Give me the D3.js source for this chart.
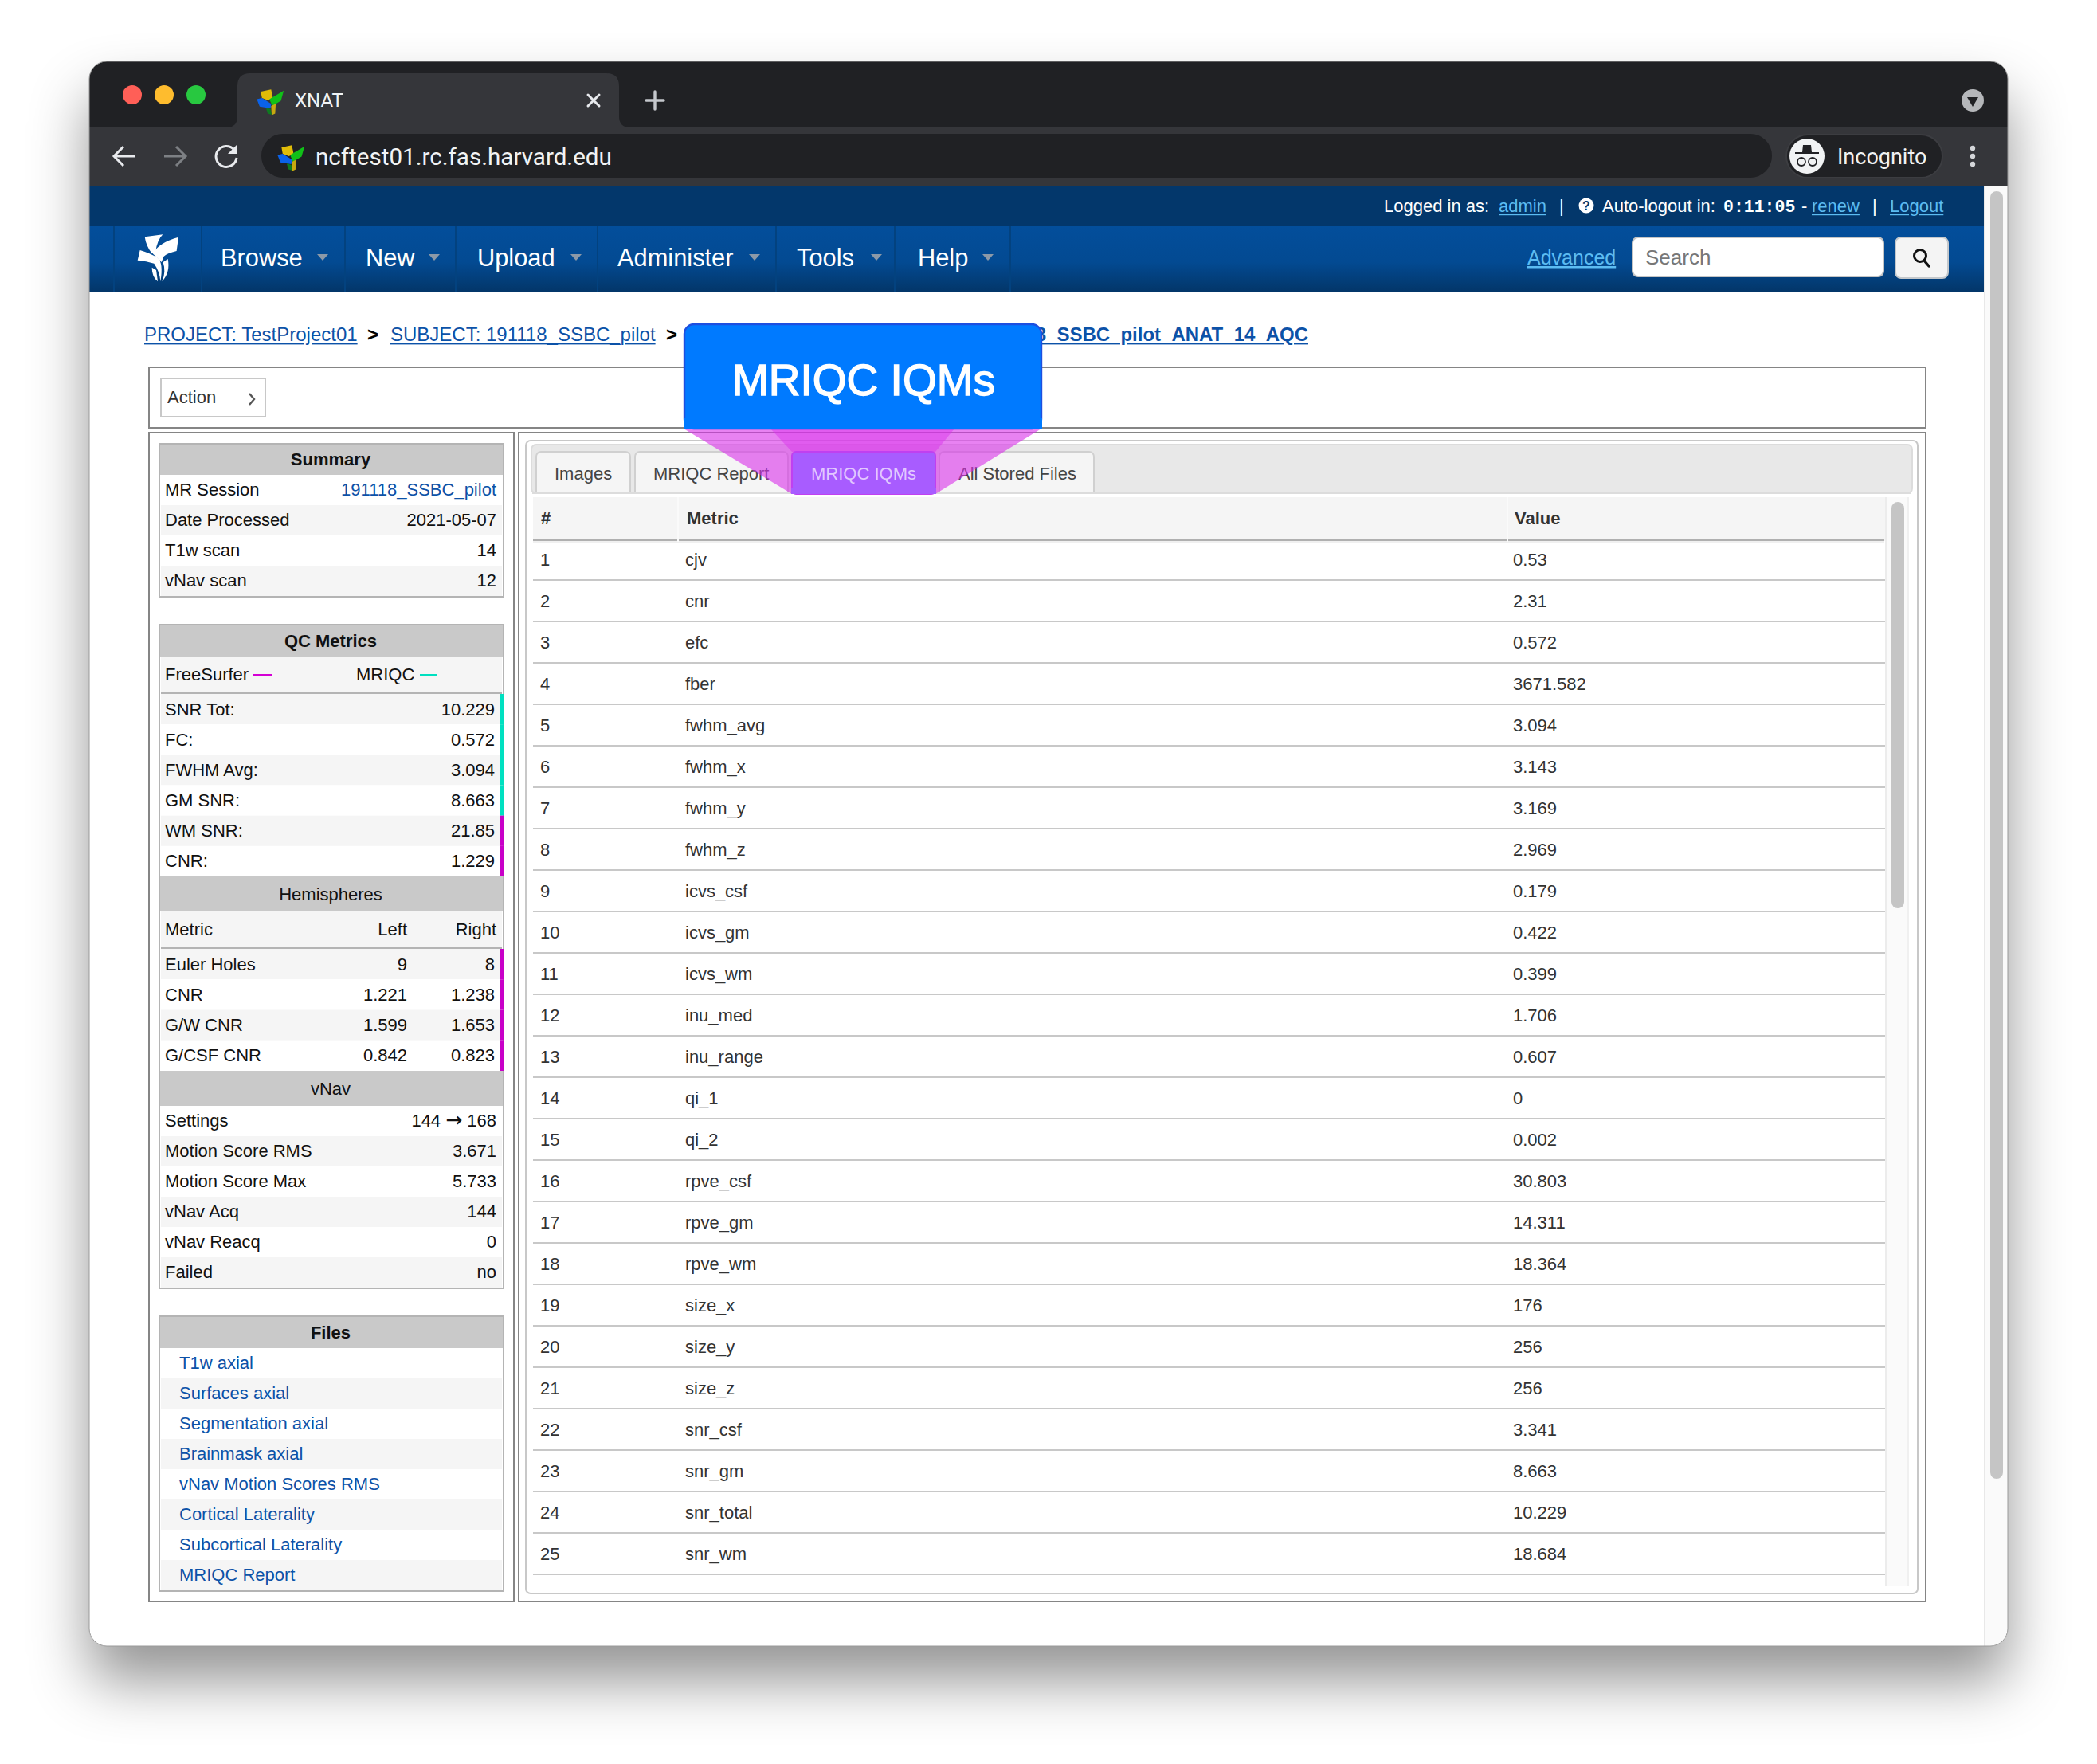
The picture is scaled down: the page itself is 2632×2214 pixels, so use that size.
<!DOCTYPE html>
<html>
<head>
<meta charset="utf-8">
<title>XNAT</title>
<script src="https://cdn.jsdelivr.net/npm/d3@7"></script>
<style>
html, body { margin: 0; padding: 0; background: #fff; }
svg { display: block; }
text { font-family: "Liberation Sans", Arial, sans-serif; }
</style>
</head>
<body>
<script>
// metric table
var iqmNames = ["cjv","cnr","efc","fber","fwhm_avg","fwhm_x","fwhm_y","fwhm_z","icvs_csf","icvs_gm","icvs_wm","inu_med","inu_range","qi_1","qi_2","rpve_csf","rpve_gm","rpve_wm","size_x","size_y","size_z","snr_csf","snr_gm","snr_total","snr_wm"];
var iqmValues = ["0.53","2.31","0.572","3671.582","3.094","3.143","3.169","2.969","0.179","0.422","0.399","1.706","0.607","0","0.002","30.803","14.311","18.364","176","256","256","3.341","8.663","10.229","18.684"];

// left column
var summaryLabels = ["MR Session","Date Processed","T1w scan","vNav scan"];
var summaryValues = ["191118_SSBC_pilot","2021-05-07","14","12"];
var qcLabels = ["SNR Tot:","FC:","FWHM Avg:","GM SNR:","WM SNR:","CNR:"];
var qcValues = ["10.229","0.572","3.094","8.663","21.85","1.229"];
var qcSources = ["mriqc","mriqc","mriqc","mriqc","freesurfer","freesurfer"];
var hemiLabels = ["Euler Holes","CNR","G/W CNR","G/CSF CNR"];
var hemiLeft = ["9","1.221","1.599","0.842"];
var hemiRight = ["8","1.238","1.653","0.823"];
var vnavLabels = ["Settings","Motion Score RMS","Motion Score Max","vNav Acq","vNav Reacq","Failed"];
var vnavValues = ["144 \u2192 168","3.671","5.733","144","0","no"];
var fileLabels = ["T1w axial","Surfaces axial","Segmentation axial","Brainmask axial","vNav Motion Scores RMS","Cortical Laterality","Subcortical Laterality","MRIQC Report"];

// nav bar
var navLabels = ["Browse","New","Upload","Administer","Tools","Help"];
var navTextX = [277,459,599,775,1000,1152];
var navArrowX = [405,545,723,947,1100,1240];
var navSepX = [143,253,433,572,750,974,1123,1268];

var tabLabels = ["Images","MRIQC Report","MRIQC IQMs","All Stored Files"];
var tabLeft = [673,797,994,1179];
var tabRight = [791,989,1174,1373];

var sourceColor = { mriqc: "#00e0c0", freesurfer: "#c800c8" };
var linkBlue = "#0c52a8", skyBlue = "#5cbcf2";

var svg = d3.select("body").append("svg").attr("width", 2632).attr("height", 2214);
var defs = svg.append("defs");

var shadow = defs.append("filter").attr("id", "winShadow")
  .attr("x", "-10%").attr("y", "-10%").attr("width", "120%").attr("height", "125%");
shadow.append("feDropShadow").attr("dx", 0).attr("dy", 44).attr("stdDeviation", 36)
  .attr("flood-color", "#000").attr("flood-opacity", 0.42);

defs.append("clipPath").attr("id", "winClip").append("rect")
  .attr("x", 112).attr("y", 77).attr("width", 2408).attr("height", 1989).attr("rx", 22);

var navGrad = defs.append("linearGradient").attr("id", "navGrad").attr("x1", 0).attr("x2", 0).attr("y1", 0).attr("y2", 1);
navGrad.append("stop").attr("offset", "0").attr("stop-color", "#034e9b");
navGrad.append("stop").attr("offset", "0.55").attr("stop-color", "#034a92");
navGrad.append("stop").attr("offset", "1").attr("stop-color", "#033669");

function box(g, x0, y0, x1, y1, fill, stroke, sw, rx) {
  return g.append("rect").attr("x", x0).attr("y", y0).attr("width", x1 - x0).attr("height", y1 - y0)
    .attr("fill", fill).attr("stroke", stroke || "none").attr("stroke-width", sw || 0).attr("rx", rx || 0);
}
function label(g, x, y, str, size, color, anchor, weight) {
  return g.append("text").attr("x", x).attr("y", y).text(str)
    .attr("font-size", size || 22).attr("fill", color || "#111")
    .attr("text-anchor", anchor || "start").attr("font-weight", weight || "normal");
}
function line(g, x0, y0, x1, y1, color, w) {
  return g.append("line").attr("x1", x0).attr("y1", y0).attr("x2", x1).attr("y2", y1)
    .attr("stroke", color).attr("stroke-width", w).attr("stroke-linecap", "round");
}

// window
box(svg, 112, 77, 2520, 2066, "#fff", "none", 0, 22).attr("filter", "url(#winShadow)");
var win = svg.append("g").attr("clip-path", "url(#winClip)");
box(win, 112, 77, 2520, 2066, "#fff");

// browser chrome
box(win, 112, 77, 2520, 160, "#202124");
box(win, 112, 160, 2520, 233, "#35363a");
win.append("path").attr("fill", "#35363a")
  .attr("d", "M284,160 Q298,160 298,146 L298,108 Q298,92 314,92 L761,92 Q777,92 777,108 L777,146 Q777,160 791,160 Z");
[["#ff5f57",166],["#febc2e",206],["#28c840",246]].forEach(function (d) {
  win.append("circle").attr("cx", d[1]).attr("cy", 119).attr("r", 12).attr("fill", d[0]);
});

var fav = defs.append("g").attr("id", "favicon").attr("transform", "scale(0.36)");
fav.append("path").attr("fill", "#e0bc08").attr("d", "M26,28 L62,20 L68,50 L52,58 L30,50 Z");
fav.append("path").attr("fill", "#10c018").attr("d", "M56,54 L106,24 L96,60 L66,78 Z");
fav.append("path").attr("fill", "#0a62e8").attr("d", "M12,54 L30,50 L62,70 L60,86 L22,80 Z");
fav.append("path").attr("fill", "#0e7a20").attr("d", "M44,84 L60,88 L64,108 L50,104 Z");
fav.append("path").attr("fill", "#c8a810").attr("d", "M62,78 L78,70 L76,104 L64,110 Z");
win.append("use").attr("href", "#favicon").attr("x", 318).attr("y", 105);

label(win, 370, 134, "XNAT", 24, "#f1f3f4").style("font-family", "Roboto");
line(win, 738, 119, 752, 133, "#e8eaed", 3);
line(win, 752, 119, 738, 133, "#e8eaed", 3);
line(win, 822, 115, 822, 137, "#c4c7cc", 3.4);
line(win, 811, 126, 833, 126, "#c4c7cc", 3.4);

// back, forward, reload
win.append("path").attr("d", "M170,196 L144,196 M155,184 L143,196 L155,208").attr("fill", "none").attr("stroke", "#e8eaed").attr("stroke-width", 3);
win.append("path").attr("d", "M206,196 L232,196 M221,184 L233,196 L221,208").attr("fill", "none").attr("stroke", "#7d8084").attr("stroke-width", 3);
win.append("path").attr("d", "M294,188 A13,13 0 1 0 297,198").attr("fill", "none").attr("stroke", "#e8eaed").attr("stroke-width", 3);
win.append("path").attr("d", "M297,182 L297,193 L286,193 Z").attr("fill", "#e8eaed");

box(win, 328, 168, 2224, 223, "#202124", "none", 0, 27);
win.append("use").attr("href", "#favicon").attr("x", 344).attr("y", 175);
label(win, 396, 207, "ncftest01.rc.fas.harvard.edu", 29.6, "#f1f3f4").style("font-family", "Roboto");

box(win, 2242, 169, 2438, 223, "#202124", "#3c3d41", 2, 27);
win.append("circle").attr("cx", 2268).attr("cy", 196).attr("r", 22).attr("fill", "#f1f3f4");
win.append("path").attr("fill", "#202124").attr("d", "M2253,191 L2262,191 L2263,182 L2273,182 L2274,191 L2283,191 L2283,193 L2253,193 Z");
win.append("circle").attr("cx", 2261).attr("cy", 203).attr("r", 5).attr("fill", "none").attr("stroke", "#202124").attr("stroke-width", 1.8);
win.append("circle").attr("cx", 2275).attr("cy", 203).attr("r", 5).attr("fill", "none").attr("stroke", "#202124").attr("stroke-width", 1.8);
label(win, 2306, 206, "Incognito", 27, "#f1f3f4").style("font-family", "Roboto");
[186,196,206].forEach(function (y) { win.append("circle").attr("cx", 2476).attr("cy", y).attr("r", 3.2).attr("fill", "#d4d6d9"); });
win.append("circle").attr("cx", 2476).attr("cy", 126).attr("r", 14).attr("fill", "#b5b7ba");
win.append("path").attr("fill", "#202124").attr("d", "M2469,122 L2483,122 L2476,134 Z");

// site header
box(win, 112, 233, 2490, 284, "#03376b");
box(win, 112, 284, 2490, 366, "url(#navGrad)");

label(win, 1737, 266, "Logged in as:", 22, "#fff");
label(win, 1881, 266, "admin", 22, skyBlue).style("text-decoration", "underline");
label(win, 1957, 266, "|", 22, "#fff");
win.append("circle").attr("cx", 1991).attr("cy", 258).attr("r", 9.5).attr("fill", "#fff");
label(win, 1991, 264, "?", 16, "#03376b", "middle", "bold");
label(win, 2011, 266, "Auto-logout in:", 22, "#fff");
label(win, 2163, 266, "0:11:05", 21.5, "#fff", "start", "bold").style("font-family", "Liberation Mono");
label(win, 2261, 266, "-", 22, "#fff");
label(win, 2274, 266, "renew", 22, skyBlue).style("text-decoration", "underline");
label(win, 2350, 266, "|", 22, "#fff");
label(win, 2372, 266, "Logout", 22, skyBlue).style("text-decoration", "underline");

win.selectAll("line.navsep").data(navSepX).enter().append("line").attr("class", "navsep")
  .attr("x1", function (d) { return d; }).attr("x2", function (d) { return d; })
  .attr("y1", 284).attr("y2", 366).attr("stroke", "#03427f").attr("stroke-width", 2);

// logo
var logo = win.append("g").attr("transform", "translate(160,285) scale(0.3333)").attr("fill", "#fff");
logo.append("path").attr("d", "M65,37 L133,28 Q112,48 105,95 L92,100 Q70,72 65,37 Z");
logo.append("path").attr("d", "M192,38 L185,90 Q150,98 137,110 L128,132 L95,100 Q118,58 192,38 Z");
logo.append("path").attr("d", "M47,87 Q85,98 114,116 Q136,135 124,205 Q122,168 100,137 Q72,128 38,125 Z");
logo.append("path").attr("d", "M134,132 L152,120 Q162,170 130,205 Q146,170 134,132 Z");
logo.append("path").attr("d", "M92,152 L108,162 L114,205 Q92,188 92,152 Z");

win.selectAll("text.nav").data(navLabels).enter().append("text").attr("class", "nav")
  .attr("x", function (d, i) { return navTextX[i]; }).attr("y", 334)
  .attr("font-size", 30.8).attr("fill", "#fff").text(function (d) { return d; });
win.selectAll("path.navarrow").data(navArrowX).enter().append("path").attr("class", "navarrow")
  .attr("fill", "#8c99a8")
  .attr("d", function (d) { return "M" + (d - 7) + ",319 L" + (d + 7) + ",319 L" + d + ",327 Z"; });

label(win, 1917, 332, "Advanced", 25, skyBlue).style("text-decoration", "underline");
box(win, 2049, 298, 2364, 347, "#fff", "#c4c4c4", 2, 7);
label(win, 2065, 332, "Search", 26, "#777");
box(win, 2379, 298, 2445, 349, "#f4f4f4", "#c4c8cc", 2, 7);
win.append("circle").attr("cx", 2410).attr("cy", 321).attr("r", 7.5).attr("fill", "none").attr("stroke", "#111").attr("stroke-width", 3);
line(win, 2415, 327, 2421, 334, "#111", 3.4);

// window scrollbar
box(win, 2490, 233, 2520, 2066, "#fafafa");
box(win, 2490, 233, 2492, 2066, "#e8e8e8");
box(win, 2498, 240, 2514, 1856, "#c5c5c5", "none", 0, 8);

// breadcrumb
label(win, 181, 428, "PROJECT: TestProject01", 24, linkBlue).style("text-decoration", "underline");
label(win, 461, 428, ">", 24, "#000", "start", "bold");
label(win, 490, 428, "SUBJECT: 191118_SSBC_pilot", 24, linkBlue).style("text-decoration", "underline");
label(win, 836, 428, ">", 24, "#000", "start", "bold");
label(win, 1642, 428, "SESSION: 191118_SSBC_pilot_ANAT_14_AQC", 24, linkBlue, "end", "bold").style("text-decoration", "underline");

// panels
box(win, 187, 461, 2417, 537, "#fff", "#858585", 2);
box(win, 202, 475, 333, 523, "#fff", "#c8c8c8", 2);
label(win, 210, 506, "Action", 22, "#333");
win.append("path").attr("d", "M313,494 L319,501 L313,508").attr("fill", "none").attr("stroke", "#555").attr("stroke-width", 2.4);
box(win, 187, 543, 645, 2010, "#fff", "#858585", 2);
box(win, 651, 543, 2417, 2010, "#fff", "#858585", 2);
box(win, 660, 553, 2407, 2000, "#fff", "#c8c8c8", 2, 6);
box(win, 667, 558, 2400, 619, "#e8e8e8", "#dcdcdc", 2, 6);

// left tables
function sideHead(y0, y1, str, weight, dy) {
  box(win, 200, y0, 632, y1, "#c9c9c9");
  label(win, 415, y0 + dy, str, 22, "#111", "middle", weight);
}
function sideRows(names, y0, y1, firstShaded) {
  var y = d3.scaleBand().domain(d3.range(names.length)).range([y0, y1]);
  win.append("g").selectAll("rect").data(names).enter().append("rect")
    .attr("x", 202).attr("width", 428)
    .attr("y", function (d, i) { return y(i); }).attr("height", y.bandwidth())
    .attr("fill", function (d, i) { return (i % 2 === 0) === firstShaded ? "#f5f5f5" : "#fff"; });
  return y;
}
function sideText(y, values, x, anchor, color, dy) {
  return win.append("g").selectAll("text").data(values).enter().append("text")
    .attr("x", x).attr("y", function (d, i) { return y(i) + dy; })
    .attr("font-size", 22).attr("fill", function (d, i) { return typeof color === "function" ? color(i) : color; })
    .attr("text-anchor", anchor).text(function (d) { return d; });
}

// summary
sideHead(557, 596, "Summary", "bold", 27);
var ySummary = sideRows(summaryLabels, 596, 748, false);
sideText(ySummary, summaryLabels, 207, "start", "#111", 26);
sideText(ySummary, summaryValues, 623, "end", function (i) { return i === 0 ? linkBlue : "#111"; }, 26);
box(win, 200, 557, 632, 749, "none", "#b4b4b4", 2);

// qc metrics
sideHead(784, 824, "QC Metrics", "bold", 28);
box(win, 202, 824, 630, 871, "#f5f5f5");
box(win, 202, 869, 630, 871, "#b4b4b4");
label(win, 207, 854, "FreeSurfer");
label(win, 447, 854, "MRIQC");
box(win, 318, 846, 341, 849, "#d400d4");
box(win, 527, 846, 549, 849, "#00e0c0");
var yQc = sideRows(qcLabels, 871, 1100, true);
sideText(yQc, qcLabels, 207, "start", "#111", 26.5);
sideText(yQc, qcValues, 621, "end", "#111", 26.5);

sideHead(1100, 1144, "Hemispheres", "normal", 30);
box(win, 202, 1144, 630, 1191, "#f5f5f5");
box(win, 202, 1189, 630, 1191, "#b4b4b4");
label(win, 207, 1174, "Metric");
label(win, 511, 1174, "Left", 22, "#111", "end");
label(win, 623, 1174, "Right", 22, "#111", "end");
var yHemi = sideRows(hemiLabels, 1191, 1344, true);
sideText(yHemi, hemiLabels, 207, "start", "#111", 26.5);
sideText(yHemi, hemiLeft, 511, "end", "#111", 26.5);
sideText(yHemi, hemiRight, 621, "end", "#111", 26.5);

sideHead(1344, 1388, "vNav", "normal", 30);
var yVnav = sideRows(vnavLabels, 1388, 1616, false);
sideText(yVnav, vnavLabels, 207, "start", "#111", 25.5);
// the arrow comes from DejaVu, it is too short in Liberation
sideText(yVnav, vnavValues, 623, "end", "#111", 25.5).each(function (d) {
  var parts = d.split("\u2192");
  if (parts.length < 2) return;
  var t = d3.select(this).text(null);
  t.append("tspan").text(parts[0]);
  t.append("tspan").style("font-family", "DejaVu Sans").attr("font-size", 25).text("\u2192");
  t.append("tspan").text(parts[1]);
});
box(win, 200, 784, 632, 1617, "none", "#b4b4b4", 2);

// the colour bars sit over the table border
win.append("g").selectAll("rect").data(qcSources).enter().append("rect")
  .attr("x", 628).attr("width", 4)
  .attr("y", function (d, i) { return yQc(i); }).attr("height", yQc.bandwidth())
  .attr("fill", function (d) { return sourceColor[d]; });
win.append("g").selectAll("rect").data(hemiLabels).enter().append("rect")
  .attr("x", 628).attr("width", 4)
  .attr("y", function (d, i) { return yHemi(i); }).attr("height", yHemi.bandwidth())
  .attr("fill", sourceColor.freesurfer);

// files
sideHead(1652, 1692, "Files", "bold", 28);
var yFiles = sideRows(fileLabels, 1692, 1996, false);
sideText(yFiles, fileLabels, 225, "start", linkBlue, 25.5);
box(win, 200, 1652, 632, 1997, "none", "#b4b4b4", 2);

// tabs
var tabs = win.append("g");
tabLabels.forEach(function (d, i) {
  if (i === 2) return;
  box(tabs, tabLeft[i], 567, tabRight[i], 625, "#f5f5f5", "#d0d0d0", 2, 6);
});
box(tabs, 668, 619, 2399, 627, "#fff");
box(tabs, 668, 618, 2399, 620, "#dcdcdc");
label(tabs, 696, 602, tabLabels[0], 22, "#444");
label(tabs, 820, 602, tabLabels[1], 22, "#444");
label(tabs, 1203, 602, tabLabels[3], 22, "#444");

// right table
var yIqm = d3.scaleBand().domain(d3.range(iqmNames.length)).range([677, 1977]);
box(win, 669, 624, 2366, 679, "#f5f5f5");
box(win, 669, 677, 2365, 679, "#b0b0b0");
box(win, 669, 679, 2365, 682, "#f0f0f0");
box(win, 850, 624, 852, 680, "#fafafa");
box(win, 1891, 624, 1893, 680, "#fafafa");
label(win, 679, 658, "#", 22, "#333", "start", "bold");
label(win, 862, 658, "Metric", 22, "#333", "start", "bold");
label(win, 1901, 658, "Value", 22, "#333", "start", "bold");

var rows = win.append("g").selectAll("g").data(iqmNames).enter().append("g")
  .attr("transform", function (d, i) { return "translate(0," + yIqm(i) + ")"; });
rows.append("rect").attr("x", 669).attr("width", 1697).attr("y", yIqm.bandwidth() - 2).attr("height", 2).attr("fill", "#c8c8c8");
rows.append("text").attr("x", 678).attr("y", 33).attr("font-size", 22).attr("fill", "#333")
  .text(function (d, i) { return i + 1; });
rows.append("text").attr("x", 860).attr("y", 33).attr("font-size", 22).attr("fill", "#333")
  .text(function (d) { return d; });
rows.append("text").attr("x", 1899).attr("y", 33).attr("font-size", 22).attr("fill", "#333")
  .text(function (d, i) { return iqmValues[i]; });

// table scrollbar
box(win, 2366, 624, 2396, 1990, "#fafafa");
box(win, 2366, 624, 2368, 1990, "#ececec");
box(win, 2394, 624, 2396, 1990, "#f0f0f0");
box(win, 2374, 630, 2390, 1140, "#c5c5c5", "none", 0, 8);

// callout on top of the tab
win.append("path").attr("fill", "#d92fea").attr("fill-opacity", 0.6)
  .attr("d", "M858,538 L1307,538 L1174,620 L994,620 Z");
win.append("path").attr("fill", "#d92fea").attr("fill-opacity", 0.45)
  .attr("d", "M967,538 L1198,538 L1174,567 L994,567 Z");
box(win, 994, 567, 1174, 620, "#a85cff", "#c040f0", 2, 5);
box(win, 993, 612, 1175, 620, "#a85cff");
label(win, 1084, 602, tabLabels[2], 22, "#e2c8ff", "middle");

box(win, 859, 407, 1307, 538, "#007aff", "#1d4fe0", 2.4, 12);
box(win, 858, 525, 1308, 539, "#007aff");
label(win, 1084, 496, "MRIQC IQMs", 55, "#fff", "middle").attr("stroke", "#fff").attr("stroke-width", 1.4);

// hairline round the window
box(svg, 112, 77, 2520, 2066, "none", "#9a9a9a", 1, 22);
</script>
</body>
</html>
